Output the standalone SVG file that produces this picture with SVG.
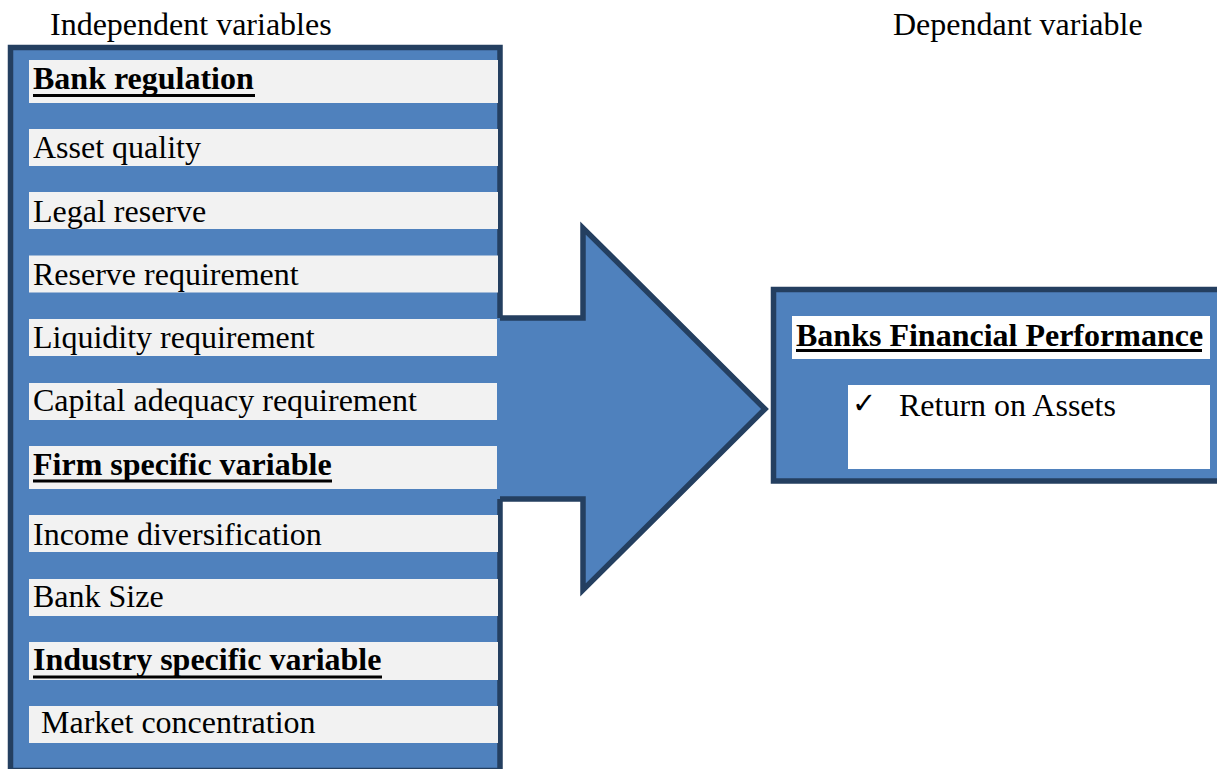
<svg xmlns="http://www.w3.org/2000/svg" width="1217" height="769" viewBox="0 0 1217 769">
<style>
.t{font-family:"Liberation Serif","Times New Roman",serif;font-size:32px;fill:#000}
.b{font-weight:bold}
.box{fill:#4F81BD;stroke:#243F60;stroke-width:5.5}
.bar{fill:#F2F2F2}
.wbar{fill:#FFFFFF}
.ul{fill:#000}
</style>
<rect width="1217" height="769" fill="#FFFFFF"/>
<g id="labels">
<text class="t" x="50" y="35">Independent variables</text>
<text class="t" x="893" y="35">Dependant variable</text>
</g>
<g id="independent">
<rect class="box" x="10.5" y="47.5" width="489.5" height="723"/>
<rect class="bar" x="29" y="60" width="469" height="43"/>
<text class="t b" x="33" y="89">Bank regulation</text>
<rect class="ul" x="33" y="94" width="222" height="3"/>
<rect class="bar" x="29" y="129" width="469" height="37"/>
<text class="t" x="33" y="158">Asset quality</text>
<rect class="bar" x="29" y="192" width="469" height="37"/>
<text class="t" x="33" y="221.5">Legal reserve</text>
<rect class="bar" x="29" y="255.5" width="469" height="37"/>
<text class="t" x="33" y="284.5">Reserve requirement</text>
<rect class="bar" x="29" y="319" width="469" height="37"/>
<text class="t" x="33" y="348">Liquidity requirement</text>
<rect class="bar" x="29" y="383" width="469" height="37"/>
<text class="t" x="33" y="411">Capital adequacy requirement</text>
<rect class="bar" x="29" y="446" width="469" height="43"/>
<text class="t b" x="33" y="475">Firm specific variable</text>
<rect class="ul" x="33" y="479.5" width="299" height="3"/>
<rect class="bar" x="29" y="515" width="469" height="37"/>
<text class="t" x="33" y="544.5">Income diversification</text>
<rect class="bar" x="29" y="579" width="469" height="37"/>
<text class="t" x="33" y="607">Bank Size</text>
<rect class="bar" x="29" y="642" width="469" height="38"/>
<text class="t b" x="33" y="670">Industry specific variable</text>
<rect class="ul" x="33" y="675.5" width="349" height="3"/>
<rect class="bar" x="29" y="706" width="469" height="37"/>
<text class="t" x="41" y="733">Market concentration</text>
</g>
<g id="connectors">
<polygon points="497,318 583,318 583,228 765,409 583,590 583,499 497,499" fill="#4F81BD"/>
<polyline points="500,318 583,318 583,228 765,409 583,590 583,499 500,499" fill="none" stroke="#243F60" stroke-width="5.5" stroke-linejoin="miter"/>
</g>
<g id="dependent">
<rect class="box" x="773.5" y="289.5" width="460" height="191.5"/>
<rect class="wbar" x="792" y="316" width="418" height="43"/>
<text class="t b" x="796" y="346">Banks Financial Performance</text>
<rect class="ul" x="796" y="349" width="406" height="3"/>
<rect class="wbar" x="848" y="385" width="362" height="84"/>
<text x="852" y="413" style="font-family:'DejaVu Sans',sans-serif;font-size:29px;font-weight:bold;fill:#000">✓</text>
<text class="t" x="899" y="416">Return on Assets</text>
</g>
</svg>
